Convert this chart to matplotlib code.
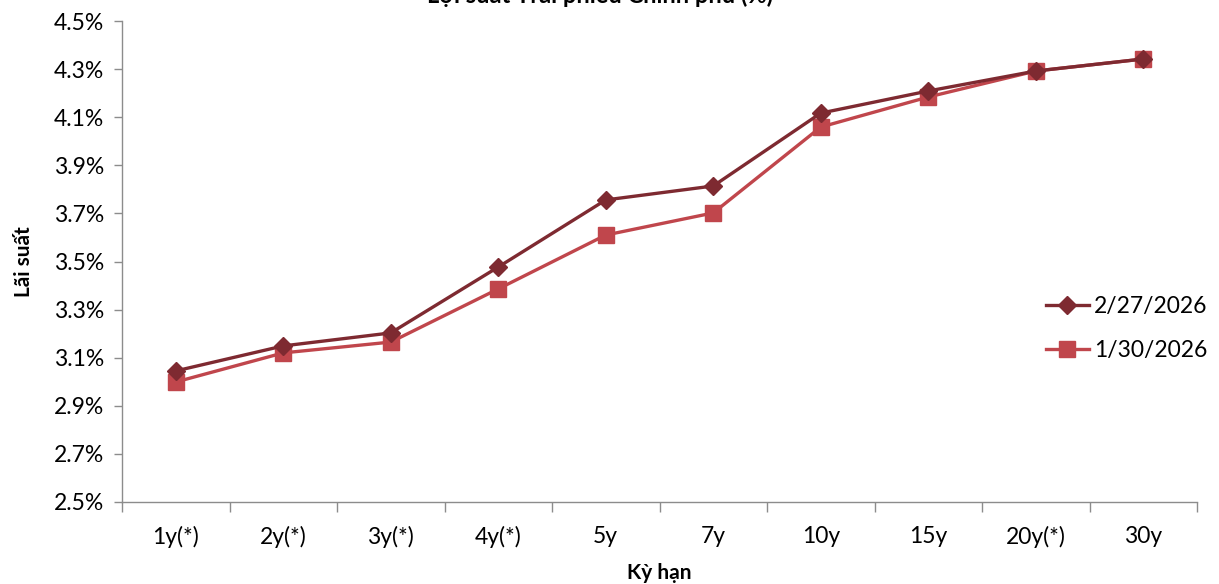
import matplotlib
matplotlib.use('Agg')
import matplotlib.pyplot as plt
import numpy as np

plt.rcParams['font.family'] = ['Lato', 'DejaVu Sans']

terms = ['1y(*)', '2y(*)', '3y(*)', '4y(*)', '5y', '7y', '10y', '15y', '20y(*)', '30y']
yield_feb = [3.045, 3.149, 3.203, 3.477, 3.756, 3.814, 4.117, 4.209, 4.292, 4.342]
yield_jan = [2.999, 3.120, 3.165, 3.386, 3.610, 3.702, 4.059, 4.184, 4.292, 4.342]
yticks = [2.5, 2.7, 2.9, 3.1, 3.3, 3.5, 3.7, 3.9, 4.1, 4.3, 4.5]

dark = '#7E2A31'
light = '#C0464C'
axis_gray = '#8C8C8C'

fig = plt.figure(figsize=(12.19, 5.84), dpi=100)
ax = fig.add_axes([122 / 1219, 1 - 502 / 584, (1197 - 122) / 1219, (502 - 21) / 584])

x = np.arange(len(terms))
ax.plot(x, yield_feb, color=dark, lw=2.4, marker='D', ms=9, mec=dark, mfc=dark,
        label='2/27/2026', zorder=3)
ax.plot(x, yield_jan, color=light, lw=2.4, marker='s', ms=11.5, mec=light, mfc=light,
        label='1/30/2026', zorder=2)

ax.set_xlim(-0.5, len(terms) - 0.5)
ax.set_ylim(2.5, 4.5)
ax.set_yticks(yticks)
ax.set_yticklabels([f'{v:.1f}%' for v in yticks])
ax.set_xticks(x)
ax.set_xticklabels(terms)
ax.set_xticks(np.arange(-0.5, len(terms)), minor=True)

for side in ['top', 'right']:
    ax.spines[side].set_visible(False)
for side in ['left', 'bottom']:
    ax.spines[side].set_color(axis_gray)
    ax.spines[side].set_linewidth(1)

ax.tick_params(axis='y', length=6, width=1, color=axis_gray, labelsize=16.5, pad=7)
ax.tick_params(axis='x', which='major', length=0, labelsize=16.5, pad=17)
ax.tick_params(axis='x', which='minor', length=7, width=1, color=axis_gray)

ax.set_ylabel('Lãi suất', fontsize=15, fontweight='bold', labelpad=14)
ax.set_xlabel('Kỳ hạn', fontsize=15, fontweight='bold', labelpad=11)

fig.text(0.492, 1 - 3 / 584, 'Lợi suất Trái phiếu Chính phủ (%)', ha='center',
         va='baseline', fontsize=17, fontweight='bold')

ax.legend(loc='center left', bbox_to_anchor=(0.84, 0.36), frameon=False,
          fontsize=16.5, handlelength=1.9, labelspacing=1.0, handletextpad=0.2)

fig.savefig('out.png', dpi=100)
